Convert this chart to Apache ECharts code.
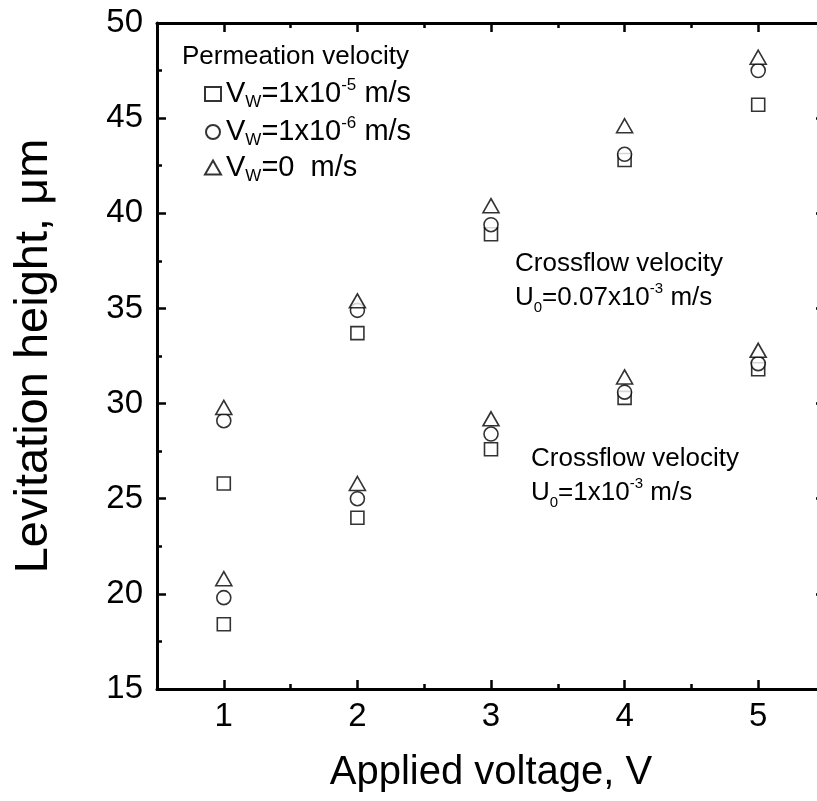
<!DOCTYPE html>
<html>
<head>
<meta charset="utf-8">
<script src="https://cdn.jsdelivr.net/npm/echarts@6/dist/echarts.min.js"></script>
<style>html,body{margin:0;padding:0;background:#fff;overflow:hidden}#c{width:817px;height:801px}</style>
</head>
<body>
<div id="c"></div>
<script>
// ---- data ----
const voltages = [1, 2, 3, 4, 5];
// Crossflow velocity U0 = 0.07x10^-3 m/s
const highVw5 = [25.8, 33.7, 38.9, 42.8, 45.7];
const highVw6 = [29.1, 34.9, 39.4, 43.1, 47.5];
const highVw0 = [29.8, 35.4, 40.4, 44.6, 48.2];
// Crossflow velocity U0 = 1x10^-3 m/s
const lowVw5 = [18.4, 24.0, 27.6, 30.3, 31.8];
const lowVw6 = [19.8, 25.0, 28.4, 30.6, 32.1];
const lowVw0 = [20.8, 25.8, 29.2, 31.4, 32.8];
const seriesNames = ['vw5', 'vw6', 'vw0'];
const majorXTicks = [1, 2, 3, 4, 5];
const minorXTicks = [1.5, 2.5, 3.5, 4.5];

const FONT = 'Liberation Sans, Arial, Helvetica, sans-serif';
function pts(a, b) {
  return voltages.map((v, i) => [v, a[i]]).concat(voltages.map((v, i) => [v, b[i]]));
}
const symStyle = { color: '#fff', borderColor: '#000', borderWidth: 1.6 };
const rich = {
  n: { fontSize: 26, fontFamily: FONT, color: '#000', lineHeight: 34 },
  sub: { fontSize: 15, fontFamily: FONT, color: '#000', verticalAlign: 'bottom', lineHeight: 34 },
  sup: { fontSize: 15, fontFamily: FONT, color: '#000', verticalAlign: 'top', lineHeight: 34 }
};
const richLeg = {
  n: { fontSize: 29, fontFamily: FONT, color: '#000', lineHeight: 34 },
  sub: { fontSize: 17, fontFamily: FONT, color: '#000', verticalAlign: 'bottom', lineHeight: 34 },
  sup: { fontSize: 17, fontFamily: FONT, color: '#000', verticalAlign: 'top', lineHeight: 34 }
};
const legendLabels = {
  vw5: '{n|V}{sub|W}{n|=1x10}{sup|-5}{n| m/s}',
  vw6: '{n|V}{sub|W}{n|=1x10}{sup|-6}{n| m/s}',
  vw0: '{n|V}{sub|W}{n|=0  m/s}'
};

const axisLineStyle = { color: '#000', width: 3 };
const tickStyle = { color: '#000', width: 2.5 };
function xAxisCfg(pos, major, labels) {
  return {
    type: 'value', position: pos, min: 0.5, max: 5.5, interval: 0.5,
    axisLine: { show: major, lineStyle: axisLineStyle, onZero: false },
    axisTick: { show: true, inside: true, length: major ? 9 : 5, lineStyle: tickStyle,
                customValues: major ? majorXTicks : minorXTicks },
    axisLabel: labels ? { show: true, customValues: majorXTicks, fontSize: 33, fontFamily: FONT, color: '#000', margin: 11 } : { show: false },
    splitLine: { show: false }
  };
}
const xAxes = [xAxisCfg('bottom', true, true), xAxisCfg('bottom', false, false), xAxisCfg('top', true, false), xAxisCfg('top', false, false)];
xAxes[0].name = 'Applied voltage, V';
xAxes[0].nameLocation = 'middle';
xAxes[0].nameGap = 64;
xAxes[0].nameTextStyle = { fontSize: 40, fontFamily: FONT, color: '#000' };

function yAxisCfg(pos, labels) {
  return {
    type: 'value', position: pos, min: 15, max: 50, interval: 5,
    axisLine: { show: true, lineStyle: axisLineStyle, onZero: false },
    axisTick: { show: true, inside: true, length: 9, lineStyle: tickStyle },
    minorTick: { show: true, splitNumber: 2, length: 5, lineStyle: tickStyle },
    axisLabel: labels ? { show: true, fontSize: 33, fontFamily: FONT, color: '#000', margin: 14 } : { show: false },
    splitLine: { show: false }, minorSplitLine: { show: false }
  };
}
const yAxes = [yAxisCfg('left', true), yAxisCfg('right', false)];
yAxes[0].name = 'Levitation height, \u03bcm';
yAxes[0].nameLocation = 'middle';
yAxes[0].nameGap = 99;
yAxes[0].nameTextStyle = { fontSize: 47, fontFamily: FONT, color: '#000' };

const chart = echarts.init(document.getElementById('c'), null, { renderer: 'canvas' });
chart.setOption({
  animation: false,
  backgroundColor: '#fff',
  grid: { left: 157, top: 23, width: 668, height: 666, containLabel: false, outerBoundsMode: 'none' },
  xAxis: xAxes,
  yAxis: yAxes,
  legend: {
    orient: 'vertical', left: 204, top: 77, padding: 0, itemGap: 4,
    itemWidth: 16, itemHeight: 14, selectedMode: false,
    data: seriesNames,
    formatter: (name) => legendLabels[name],
    textStyle: { rich: richLeg, fontSize: 29, fontFamily: FONT, color: '#000' }
  },
  series: [
    { name: 'vw5', type: 'scatter', symbol: 'rect', symbolSize: 13, itemStyle: symStyle, data: pts(highVw5, lowVw5) },
    { name: 'vw6', type: 'scatter', symbol: 'circle', symbolSize: 14, itemStyle: symStyle, data: pts(highVw6, lowVw6) },
    { name: 'vw0', type: 'scatter', symbol: 'triangle', symbolSize: [16, 14], itemStyle: symStyle, data: pts(highVw0, lowVw0) }
  ],
  graphic: [
    { type: 'text', left: 182, top: 44, style: { text: 'Permeation velocity', fontSize: 26, fontFamily: FONT, fill: '#000' } },
    { type: 'text', left: 515, top: 251, style: { text: '{n|Crossflow velocity}\n{n|U}{sub|0}{n|=0.07x10}{sup|-3}{n| m/s}', rich: rich, fill: '#000' } },
    { type: 'text', left: 531, top: 446, style: { text: '{n|Crossflow velocity}\n{n|U}{sub|0}{n|=1x10}{sup|-3}{n| m/s}', rich: rich, fill: '#000' } }
  ]
});
</script>
</body>
</html>
